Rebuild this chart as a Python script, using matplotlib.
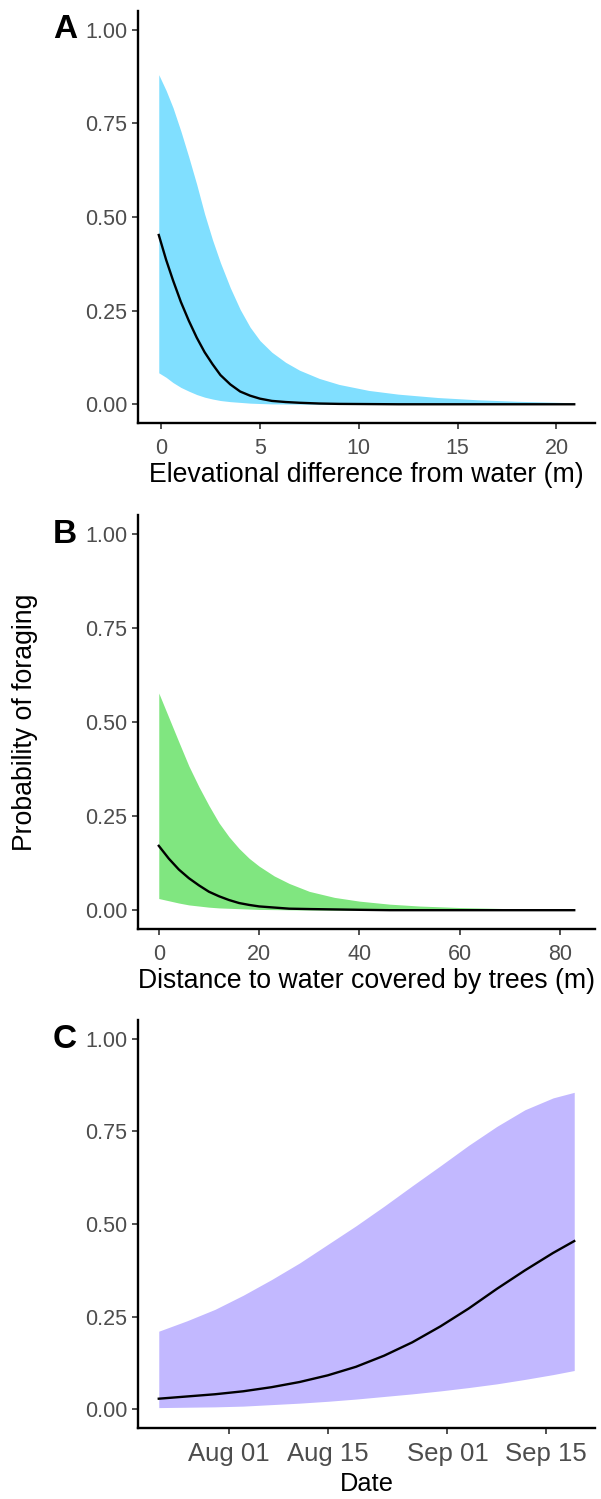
import datetime as dt

import matplotlib
matplotlib.use("Agg")
import matplotlib.pyplot as plt
import matplotlib.dates as mdates

plt.rcParams['font.family'] = ['Liberation Sans', 'DejaVu Sans']

# Panel A: elevational difference from water (m)
elev_x = [-0.12, 0.25, 0.6, 1.0, 1.4, 1.8, 2.2, 2.6, 3.0, 3.5, 4.0, 4.5, 5.0, 5.6, 6.3,
          7.0, 8.0, 9.0, 10.5, 12.0, 14.0, 16.0, 18.0, 20.9]
elev_fit = [0.452, 0.386, 0.331, 0.273, 0.223, 0.178, 0.139, 0.107, 0.078, 0.053, 0.034,
            0.023, 0.015, 0.009, 0.006, 0.004, 0.002, 0.001, 0.0005, 0.0, 0.0, 0.0, 0.0, 0.0]
elev_low = [0.084, 0.072, 0.058, 0.045, 0.035, 0.026, 0.019, 0.014, 0.010, 0.007, 0.005,
            0.003, 0.002, 0.001, 0.0007, 0.0004, 0.0, 0.0, 0.0, 0.0, 0.0, 0.0, 0.0, 0.0]
elev_high = [0.880, 0.838, 0.792, 0.729, 0.660, 0.587, 0.508, 0.439, 0.378, 0.311, 0.253,
             0.206, 0.170, 0.139, 0.112, 0.091, 0.069, 0.053, 0.037, 0.027, 0.018, 0.012,
             0.008, 0.004]

# Panel B: distance to water covered by trees (m)
dist_x = [0, 2, 4, 6, 8, 10, 12, 14, 16, 18, 20, 23, 26, 30, 35, 40, 46, 52, 60, 70, 82.8]
dist_fit = [0.171, 0.137, 0.108, 0.085, 0.066, 0.049, 0.037, 0.027, 0.019, 0.014, 0.010,
            0.007, 0.004, 0.003, 0.002, 0.001, 0.0, 0.0, 0.0, 0.0, 0.0]
dist_low = [0.031, 0.025, 0.019, 0.014, 0.011, 0.008, 0.006, 0.005, 0.004, 0.003, 0.002,
            0.0015, 0.001, 0.0005, 0.0, 0.0, 0.0, 0.0, 0.0, 0.0, 0.0]
dist_high = [0.577, 0.512, 0.447, 0.383, 0.328, 0.278, 0.232, 0.195, 0.164, 0.138, 0.117,
             0.091, 0.071, 0.050, 0.034, 0.024, 0.016, 0.011, 0.007, 0.004, 0.002]

# Panel C: date
fecha = ["2018-07-22", "2018-07-26", "2018-07-30", "2018-08-03", "2018-08-07", "2018-08-11",
         "2018-08-15", "2018-08-19", "2018-08-23", "2018-08-27", "2018-08-31", "2018-09-04",
         "2018-09-08", "2018-09-12", "2018-09-16", "2018-09-19"]
fecha_fit = [0.029, 0.035, 0.041, 0.049, 0.060, 0.074, 0.092, 0.115, 0.145, 0.181, 0.224,
             0.272, 0.325, 0.375, 0.422, 0.454]
fecha_low = [0.005, 0.006, 0.007, 0.009, 0.013, 0.017, 0.022, 0.028, 0.035, 0.042, 0.050,
             0.059, 0.069, 0.081, 0.094, 0.105]
fecha_high = [0.211, 0.239, 0.270, 0.308, 0.350, 0.395, 0.445, 0.495, 0.548, 0.603, 0.657,
              0.712, 0.763, 0.808, 0.840, 0.855]

y_ticks = [0.0, 0.25, 0.5, 0.75, 1.0]
y_labels = ["0.00", "0.25", "0.50", "0.75", "1.00"]

fig = plt.figure(figsize=(6.01, 14.99), dpi=100)
H = 1499.0
W = 601.0


def panel(top, bottom):
    return fig.add_axes([138 / W, 1 - bottom / H, 457 / W, (bottom - top) / H])


def estilo(ax, xlabel, tam_x=15.5, tam_titulo=19.2, pad_x=6.5, pad_titulo=2.7):
    for lado in ['top', 'right']:
        ax.spines[lado].set_visible(False)
    for lado in ['left', 'bottom']:
        ax.spines[lado].set_linewidth(1.7)
        ax.spines[lado].set_color('black')
    ax.set_ylim(-0.05, 1.05)
    ax.set_yticks(y_ticks)
    ax.set_yticklabels(y_labels)
    ax.tick_params(axis='both', length=4, width=1.2, color='#333333',
                   labelcolor='#4D4D4D', labelsize=15.5, pad=3.8)
    ax.tick_params(axis='x', labelsize=tam_x, pad=pad_x)
    ax.set_xlabel(xlabel, fontsize=tam_titulo, color='black', labelpad=pad_titulo)


axA = panel(11, 423)
axA.fill_between(elev_x, elev_low, elev_high, color='#80DFFF', linewidth=0)
axA.plot(elev_x, elev_fit, color='black', linewidth=1.7)
axA.set_xticks([0, 5, 10, 15, 20])
estilo(axA, 'Elevational difference from water (m)')

axB = panel(515, 929)
axB.fill_between(dist_x, dist_low, dist_high, color='#80E680', linewidth=0)
axB.plot(dist_x, dist_fit, color='black', linewidth=1.7)
axB.set_xticks([0, 20, 40, 60, 80])
estilo(axB, 'Distance to water covered by trees (m)')

axC = panel(1020, 1428)
fechas = [dt.datetime.strptime(f, "%Y-%m-%d") for f in fecha]
axC.fill_between(fechas, fecha_low, fecha_high, color='#C2B8FF', linewidth=0)
axC.plot(fechas, fecha_fit, color='black', linewidth=1.7)
axC.set_xticks([dt.datetime(2018, 8, 1), dt.datetime(2018, 8, 15),
                dt.datetime(2018, 9, 1), dt.datetime(2018, 9, 15)])
axC.xaxis.set_major_formatter(mdates.DateFormatter('%b %d'))
estilo(axC, 'Date', tam_x=18.5, tam_titulo=18.3, pad_x=5.8, pad_titulo=4.6)

# Letras de panel
for letra, base in [('A', 38), ('B', 543), ('C', 1048)]:
    fig.text(53 / W, 1 - base / H, letra, fontsize=24, fontweight='bold',
             ha='left', va='baseline')

fig.text(25 / W, 1 - 722 / H, 'Probability of foraging', rotation=90,
         fontsize=19.2, ha='center', va='center')

fig.savefig('out.png', dpi=100)
